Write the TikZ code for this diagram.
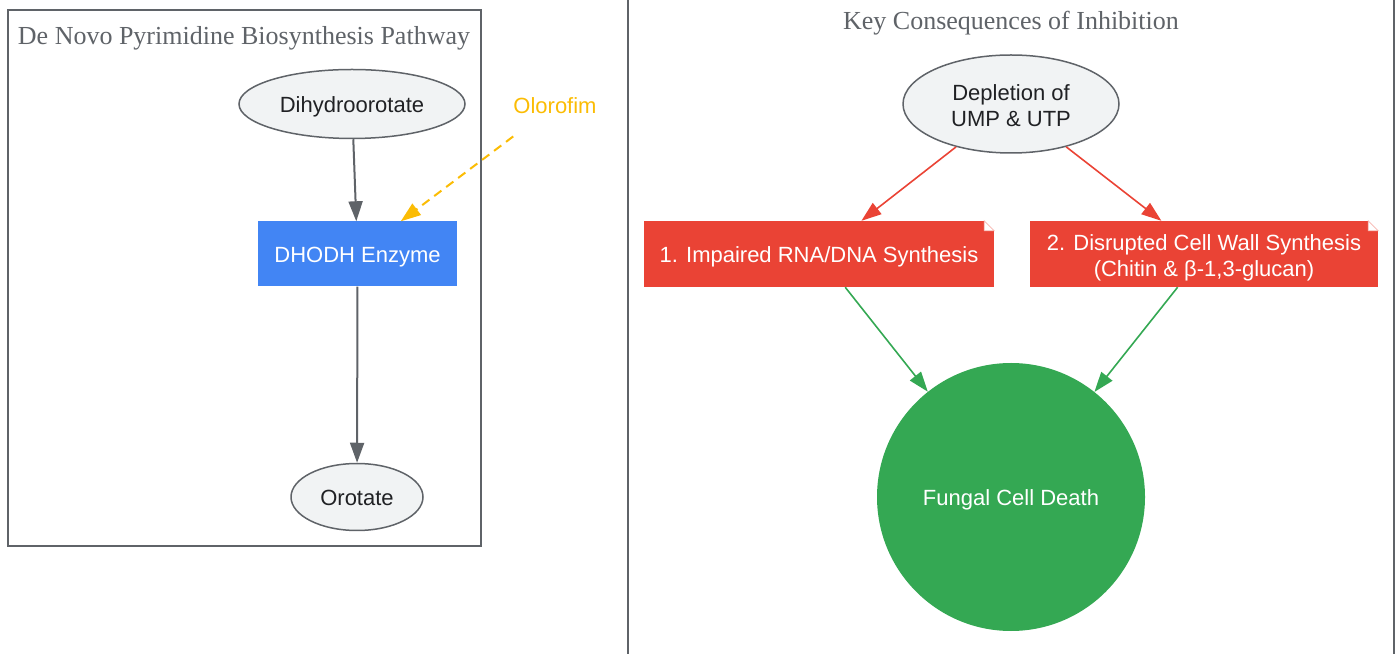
\documentclass[tikz,border=0pt]{standalone}
\usepackage{fontspec}
\setmainfont{Liberation Sans}
\newfontfamily\titlefont{Liberation Serif}
\usepackage{tikz}
\usetikzlibrary{shapes.geometric,arrows.meta,calc}
\definecolor{ggray}{HTML}{5F6368}
\definecolor{gtext}{HTML}{202124}
\definecolor{glight}{HTML}{F1F3F4}
\definecolor{gblue}{HTML}{4285F4}
\definecolor{gred}{HTML}{EA4335}
\definecolor{ggreen}{HTML}{34A853}
\definecolor{gyellow}{HTML}{FBBC04}
\tikzset{
  basenode/.style = {font=\fontsize{22}{26}\selectfont, align=center,
                     inner sep=0pt,
                     execute at begin node={\rule[-4.6pt]{0pt}{26.6pt}}},
  twoline/.style  = {basenode, yshift=-4pt},
  metab/.style    = {basenode, ellipse, draw=ggray, line width=1.5pt,
                     fill=glight, text=gtext},
  enzyme/.style   = {basenode, rectangle, fill=gblue, text=white,
                     minimum width=199pt, minimum height=65pt},
  effect/.style   = {basenode, rectangle, fill=gred, text=white,
                     minimum height=66pt},
  outcome/.style  = {basenode, circle, fill=ggreen, text=white,
                     minimum size=268pt},
  drug/.style     = {basenode, text=gyellow, minimum height=66pt},
  cluster/.style  = {draw=ggray, line width=2pt},
  clabel/.style   = {font=\titlefont\fontsize{26}{30}\selectfont, text=ggray},
  arrowtip/.style = {-{Triangle[length=20pt,width=14pt]}},
  flow/.style     = {arrowtip, color=ggray, line width=2pt},
  block/.style    = {arrowtip, color=gyellow, line width=2pt,
                     dash pattern=on 9pt off 6pt},
  hit/.style      = {arrowtip, color=gred, line width=1.6pt},
  lead/.style     = {arrowtip, color=ggreen, line width=1.6pt}
}
% folded corner of a note
\newcommand{\fold}[1]{
  \fill[white] ($(#1.north east)+(-10,0.5)$) rectangle ($(#1.north east)+(0.5,-10)$);
  \filldraw[fill=white, draw=gred!40, line width=0.8pt] ($(#1.north east)+(-10,0)$)
    -- ($(#1.north east)+(-10,-10)$) -- ($(#1.north east)+(0,-10)$) -- cycle;
}

\begin{document}
\begin{tikzpicture}[x=1pt, y=1pt]
  \useasboundingbox (0,0) rectangle (1399,653);

  % clusters
  \draw[cluster] (8,107) rectangle (481,643);
  \node[clabel] (pathtitle) at (244,615) {De Novo Pyrimidine Biosynthesis Pathway};
  \draw[cluster] (628,-5) rectangle (1394,660);
  \node[clabel] (effecttitle) at (1011,630) {Key Consequences of Inhibition};

  % pathway
  \node[metab, minimum width=226pt, minimum height=69pt] (dihydro) at (352,549) {Dihydroorotate};
  \node[enzyme] (dhodh) at (357.5,399) {DHODH Enzyme};
  \node[metab, minimum width=132pt, minimum height=67pt] (orotate) at (357,156) {Orotate};
  \node[drug] (olorofim) at (555,548) {Olorofim};

  % consequences
  \node[metab, minimum width=216pt, minimum height=98pt,
        label={[twoline, text=gtext]center:{Depletion of\\UMP \& UTP}}] (deplete) at (1011,549) {};
  \node[effect, minimum width=350pt] (rnadna) at (819,399) {1. Impaired RNA/DNA Synthesis};
  \node[effect, minimum width=348pt,
        label={[twoline, text=white]center:{2. Disrupted Cell Wall Synthesis\\(Chitin \& β-1,3-glucan)}}] (cellwall) at (1204,399) {};
  \node[outcome] (death) at (1011,156) {Fungal Cell Death};
  \fold{rnadna}
  \fold{cellwall}

  \draw[flow]
    (dihydro) edge (dhodh)
    (dhodh) edge (orotate);
  \draw[block] (olorofim) -- (dhodh);
  \draw[hit]
    \foreach \n in {rnadna, cellwall} {
      (deplete) edge (\n)
    };
  \draw[lead]
    \foreach \n in {rnadna, cellwall} {
      (\n) edge (death)
    };
\end{tikzpicture}
\end{document}
